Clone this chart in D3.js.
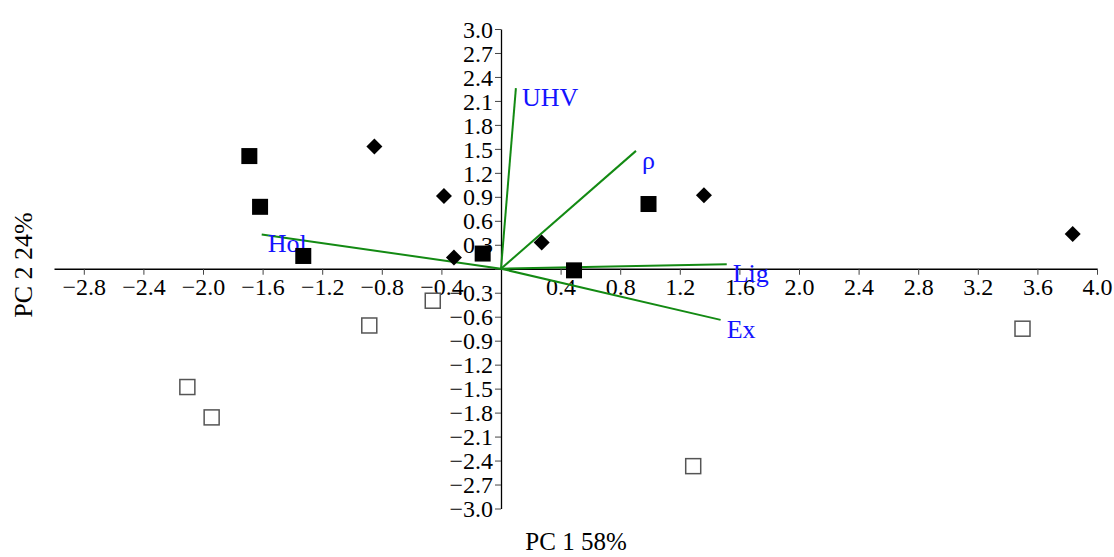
<!DOCTYPE html>
<html>
<head>
<meta charset="utf-8">
<script src="https://cdn.jsdelivr.net/npm/d3@7"></script>
<style>
  html, body { margin: 0; padding: 0; background: #fff; }
  svg { display: block; }
  text { font-family: "Liberation Serif", "Times New Roman", serif; }
</style>
</head>
<body>
<svg id="chart" width="1114" height="557"></svg>
<script>
// PCA biplot: sample scores (three groups) and variable loadings
const filledSquares = [
  [-1.689, 1.41], [-1.617, 0.775], [-1.327, 0.16],
  [-0.123, 0.19], [0.49, -0.02], [0.99, 0.81]
];
const filledDiamonds = [
  [-0.85, 1.53], [-0.383, 0.91], [-0.316, 0.14],
  [0.273, 0.33], [1.362, 0.92], [3.837, 0.436]
];
const openSquares = [
  [-0.458, -0.40], [-0.884, -0.71], [-2.105, -1.48],
  [-1.942, -1.86], [1.29, -2.47], [3.50, -0.75]
];
const loadingNames = ["UHV", "ρ", "Hol", "Lig", "Ex"];
const loadingX = [0.10, 0.906, -1.606, 1.515, 1.474];
const loadingY = [2.26, 1.475, 0.43, 0.055, -0.64];

const xTicks = [-2.8, -2.4, -2.0, -1.6, -1.2, -0.8, -0.4, 0, 0.4, 0.8, 1.2, 1.6, 2.0, 2.4, 2.8, 3.2, 3.6, 4.0];
const yTicks = [-3.0, -2.7, -2.4, -2.1, -1.8, -1.5, -1.2, -0.9, -0.6, -0.3, 0, 0.3, 0.6, 0.9, 1.2, 1.5, 1.8, 2.1, 2.4, 2.7, 3.0];
const xTitle = "PC 1 58%";
const yTitle = "PC 2 24%";

const svg = d3.select("#chart");

const x = d3.scaleLinear().domain([-3, 4]).range([54, 1097]);
const y = d3.scaleLinear().domain([-3, 3]).range([508.5, 29]);

const fmt = d => (d === 0 ? "" : d3.format(".1f")(d));

// axes crossing at the origin
const xAxis = d3.axisBottom(x).tickValues(xTicks).tickFormat(fmt).tickSize(6).tickSizeOuter(0);
const yAxis = d3.axisLeft(y).tickValues(yTicks).tickFormat(fmt).tickSize(6).tickSizeOuter(0);

const gx = svg.append("g").attr("transform", `translate(0,${y(0)})`).call(xAxis);
const gy = svg.append("g").attr("transform", `translate(${x(0)},0)`).call(yAxis);

[gx, gy].forEach(g => {
  g.attr("font-family", null).attr("font-size", null);
  g.select(".domain").attr("stroke", "#000").attr("stroke-width", 1.3);
  g.selectAll(".tick line").attr("stroke", "#444").attr("stroke-width", 1);
  g.selectAll(".tick text")
    .attr("fill", "#000")
    .style("font-family", "'Liberation Serif', serif")
    .style("font-size", "24px");
});
gx.selectAll(".tick text").attr("dy", "0.72em").attr("y", 9);
gy.selectAll(".tick text").attr("x", -8).attr("dy", "0.34em");

// loading vectors
const loadings = loadingNames.map((n, i) => ({ name: n, x: loadingX[i], y: loadingY[i] }));
const vec = svg.append("g");
vec.selectAll("line")
  .data(loadings)
  .join("line")
  .attr("x1", x(0)).attr("y1", y(0))
  .attr("x2", d => x(d.x)).attr("y2", d => y(d.y))
  .attr("stroke", "#138a13")
  .attr("stroke-width", 2);
vec.selectAll("text")
  .data(loadings)
  .join("text")
  .attr("x", d => x(d.x) + 6)
  .attr("y", d => y(d.y) + 18)
  .attr("fill", "#1414ff")
  .style("font-size", "26px")
  .text(d => d.name);

// sample scores
const pts = svg.append("g");
pts.selectAll("rect.filled")
  .data(filledSquares)
  .join("rect")
  .attr("class", "filled")
  .attr("x", d => x(d[0]) - 8).attr("y", d => y(d[1]) - 8)
  .attr("width", 16).attr("height", 16)
  .attr("fill", "#000");

pts.selectAll("path.diamond")
  .data(filledDiamonds)
  .join("path")
  .attr("class", "diamond")
  .attr("d", d => {
    const cx = x(d[0]), cy = y(d[1]), r = 8;
    return `M${cx},${cy - r}L${cx + r},${cy}L${cx},${cy + r}L${cx - r},${cy}Z`;
  })
  .attr("fill", "#000");

pts.selectAll("rect.open")
  .data(openSquares)
  .join("rect")
  .attr("class", "open")
  .attr("x", d => x(d[0]) - 7.5).attr("y", d => y(d[1]) - 7.5)
  .attr("width", 15).attr("height", 15)
  .attr("fill", "#fff")
  .attr("stroke", "#555")
  .attr("stroke-width", 1.5);

// axis titles
svg.append("text")
  .attr("x", 576).attr("y", 550)
  .attr("text-anchor", "middle")
  .attr("fill", "#000")
  .style("font-size", "25px")
  .text(xTitle);

svg.append("text")
  .attr("transform", "translate(32,265) rotate(-90)")
  .attr("text-anchor", "middle")
  .attr("fill", "#000")
  .style("font-size", "26px")
  .text(yTitle);
</script>
</body>
</html>
